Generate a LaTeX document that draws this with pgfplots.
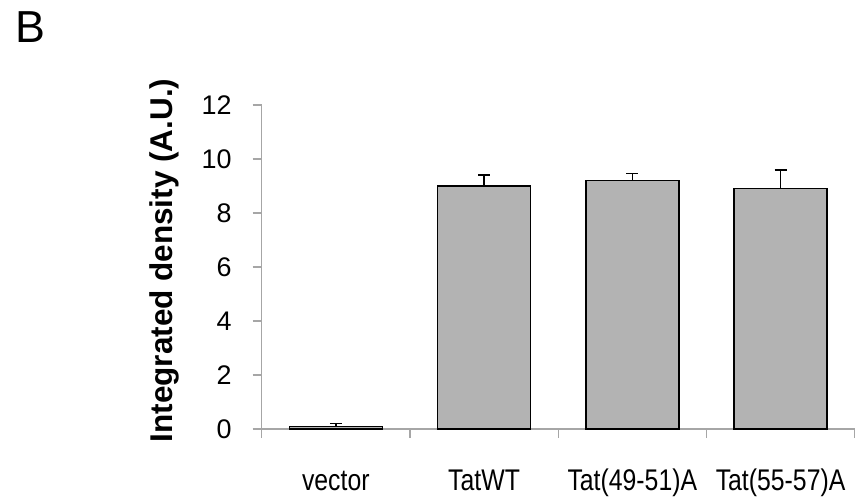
\documentclass[border=0pt]{standalone}
\usepackage{fontspec}
\setmainfont{Liberation Sans}
\newfontfamily\narrowfont[FakeStretch=0.83]{Liberation Sans}
\usepackage{pgfplots}
\pgfplotsset{compat=1.18}
\definecolor{barfill}{RGB}{179,179,179}
\definecolor{axisgray}{RGB}{166,166,166}
\begin{document}
\begin{tikzpicture}
\path[use as bounding box] (-261.7bp,-72bp) rectangle (597.3bp,429bp);
\begin{axis}[
  at={(0,0)}, anchor=south west,
  scale only axis, width=593bp, height=324bp,
  xmin=-0.5, xmax=3.5, ymin=0, ymax=12,
  clip=false,
  axis x line*=bottom, axis y line*=left,
  axis line style={axisgray, line width=1.2bp},
  tick style={axisgray, line width=1.2bp},
  tick align=outside, major tick length=9bp,
  xtick={-0.5,0.5,1.5,2.5,3.5}, xticklabels={},
  ytick={0,2,4,6,8,10,12},
  yticklabels={0,2,4,6,8,10,12},
  tick label style={font=\fontsize{27}{30}\selectfont},
  yticklabel style={anchor=east, inner sep=0pt, xshift=-21bp},
  extra x ticks={0,1,2,3},
  extra x tick labels={vector,TatWT,Tat(49-51)A,Tat(55-57)A},
  extra x tick style={major tick length=0pt, tick style={draw=none},
     xticklabel style={font=\narrowfont\fontsize{30}{34}\selectfont, anchor=base, inner sep=0pt, yshift=-61.7bp}},
  ylabel={Integrated density (A.U.)},
  ylabel style={font=\fontsize{31.6}{36}\selectfont\bfseries, at={(axis description cs:-0.1501,0.520)}, anchor=base},
  ybar, bar width=0.627,
]
\addplot[fill=barfill, draw=black, line width=1.5bp,
  error bars/.cd, y dir=plus, y explicit,
  error bar style={line width=1.5bp, black},
  error mark options={rotate=90, line width=1.5bp, mark size=6bp, black}]
  coordinates {(0,0.1) +- (0,0.1) (1,9.0) +- (0,0.4) (2,9.2) +- (0,0.27) (3,8.9) +- (0,0.7)};
\node[anchor=north west, inner sep=0pt, font=\fontsize{45}{50}\selectfont] at (rel axis cs:-0.416,1.288) {B};
\end{axis}
\end{tikzpicture}
\end{document}
